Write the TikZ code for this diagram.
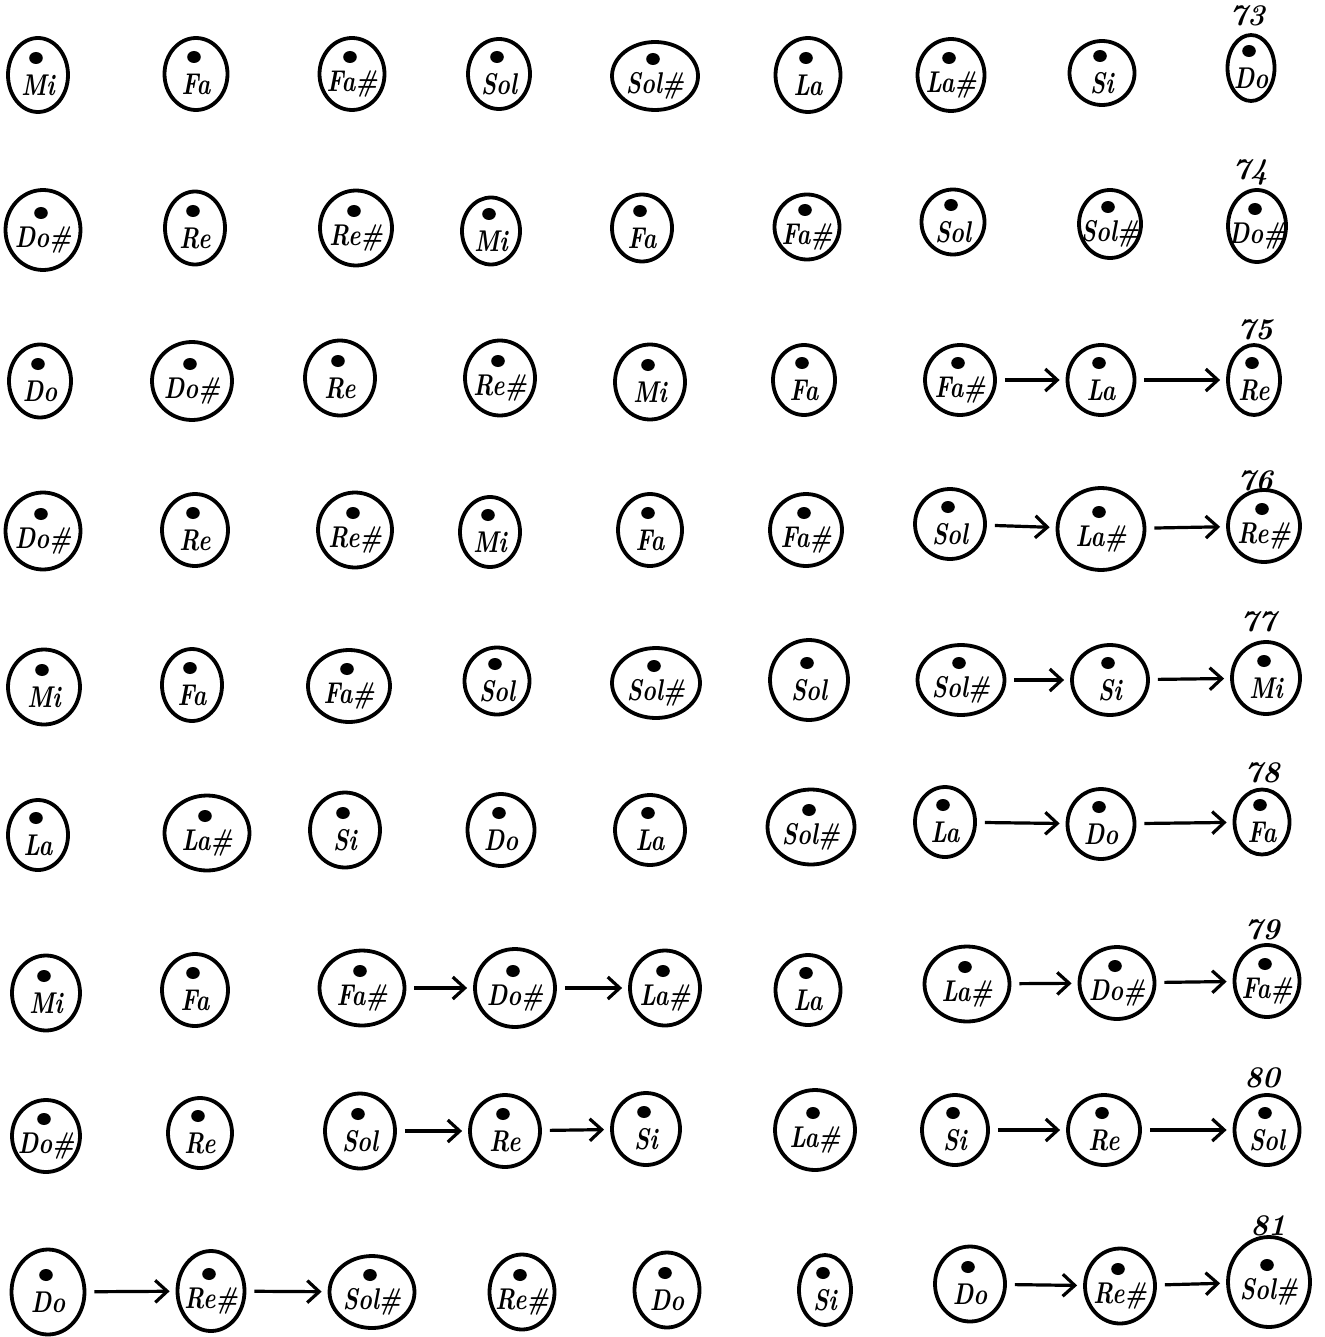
\documentclass[tikz,border=0pt]{standalone}
\usetikzlibrary{shapes.geometric,arrows.meta}
\tikzset{
  nt/.style={draw, ellipse, line width=1.9pt, inner sep=0pt},
  txt/.style={font=\fontsize{15}{16}\selectfont\bfseries\itshape, inner sep=0pt},
  num/.style={font=\fontsize{15}{16}\selectfont\bfseries\itshape, inner sep=0pt},
  arr/.style={line width=1.6pt, -{Straight Barb[length=6pt,width=11pt,line width=1.6pt]}, shorten <=4pt, shorten >=3pt},
}
% #1 name, #2 x, #3 y, #4 width px, #5 height px, #6 label
\newcommand\nt[6]{%
  \node[nt, minimum width={0.5pt*#4}, minimum height={0.5pt*#5}] (#1) at (#2,#3) {};
  \fill (#1.center) ++(-2,-17) ellipse (3.4pt and 3pt);
  \node[txt] (#1t) at ([yshift=-5pt]#1.center) {\scalebox{0.78}[1]{#6}};
}
\begin{document}
\begin{tikzpicture}[x=0.5pt,y=-0.5pt]
\useasboundingbox (0,0) rectangle (1325,1337);
% Row 1
\nt{a1}{38}{75}{60}{74}{Mi}
\nt{a2}{196}{74}{63}{72}{Fa}
\nt{a3}{352}{74}{65}{72}{Fa\#}
\nt{a4}{499}{74}{62}{70}{Sol}
\nt{a5}{655}{76}{86}{68}{Sol\#}
\nt{a6}{808}{75}{65}{74}{La}
\nt{a7}{951}{75}{67}{72}{La\#}
\nt{a8}{1102}{73}{65}{64}{Si}
\nt{a9}{1251}{68}{47}{66}{Do}
\node[num] (n73) at (1247,16) {73};
% Row 2
\nt{b1}{43}{230}{75}{80}{Do\#}
\nt{b2}{195}{228}{60}{73}{Re}
\nt{b3}{356}{228}{72}{75}{Re\#}
\nt{b4}{491}{231}{58}{67}{Mi}
\nt{b5}{642}{228}{60}{67}{Fa}
\nt{b6}{807}{227}{65}{65}{Fa\#}
\nt{b7}{953}{222}{63}{65}{Sol}
\nt{b8}{1110}{224}{62}{68}{Sol\#}
\nt{b9}{1257}{226}{58}{72}{Do\#}
\node[num] (n74) at (1250,172) {74};
% Row 3
\nt{c1}{40}{381}{62}{73}{Do}
\nt{c2}{192}{381}{80}{78}{Do\#}
\nt{c3}{340}{378}{70}{75}{Re}
\nt{c4}{500}{378}{70}{75}{Re\#}
\nt{c5}{650}{382}{70}{75}{Mi}
\nt{c6}{804}{380}{62}{70}{Fa}
\nt{c7}{960}{380}{70}{70}{Fa\#}
\nt{c8}{1101}{380}{67}{70}{La}
\nt{c9}{1254}{380}{52}{70}{Re}
\node[num] (n75) at (1255,330) {75};
\draw[arr] (c7) -- (c8);
\draw[arr] (c8) -- (c9);
% Row 4
\nt{d1}{43}{531}{75}{77}{Do\#}
\nt{d2}{195}{530}{66}{72}{Re}
\nt{d3}{355}{530}{74}{75}{Re\#}
\nt{d4}{490}{532}{60}{70}{Mi}
\nt{d5}{650}{530}{64}{72}{Fa}
\nt{d6}{806}{530}{72}{72}{Fa\#}
\nt{d7}{950}{524}{70}{70}{Sol}
\nt{d8}{1101}{529}{87}{82}{La\#}
\nt{d9}{1264}{526}{72}{72}{Re\#}
\node[num] (n76) at (1255,481) {76};
\draw[arr] (d7) -- (d8);
\draw[arr] (d8) -- (d9);
% Row 5
\nt{e1}{44}{687}{72}{75}{Mi}
\nt{e2}{192}{685}{60}{72}{Fa}
\nt{e3}{349}{686}{82}{72}{Fa\#}
\nt{e4}{497}{681}{65}{67}{Sol}
\nt{e5}{656}{683}{88}{70}{Sol\#}
\nt{e6}{809}{680}{78}{80}{Sol}
\nt{e7}{961}{680}{87}{70}{Sol\#}
\nt{e8}{1110}{680}{76}{70}{Si}
\nt{e9}{1266}{678}{68}{72}{Mi}
\node[num] (n77) at (1258,622) {77};
\draw[arr] (e7) -- (e8);
\draw[arr] (e8) -- (e9);
% Row 6
\nt{f1}{38}{835}{60}{70}{La}
\nt{f2}{207}{833}{85}{75}{La\#}
\nt{f3}{345}{830}{70}{75}{Si}
\nt{f4}{501}{830}{67}{72}{Do}
\nt{f5}{650}{830}{70}{70}{La}
\nt{f6}{811}{827}{87}{75}{Sol\#}
\nt{f7}{945}{822}{60}{70}{La}
\nt{f8}{1101}{824}{67}{70}{Do}
\nt{f9}{1262}{822}{55}{65}{Fa}
\node[num] (n78) at (1262,773) {78};
\draw[arr] (f7) -- (f8);
\draw[arr] (f8) -- (f9);
% Row 7
\nt{g1}{46}{993}{68}{75}{Mi}
\nt{g2}{195}{990}{66}{72}{Fa}
\nt{g3}{362}{988}{85}{75}{Fa\#}
\nt{g4}{515}{988}{80}{78}{Do\#}
\nt{g5}{665}{988}{70}{75}{La\#}
\nt{g6}{808}{990}{65}{70}{La}
\nt{g7}{967}{984}{85}{75}{La\#}
\nt{g8}{1117}{983}{75}{72}{Do\#}
\nt{g9}{1267}{981}{65}{72}{Fa\#}
\node[num] (n79) at (1262,930) {79};
\draw[arr] (g3) -- (g4);
\draw[arr] (g4) -- (g5);
\draw[arr] (g7) -- (g8);
\draw[arr] (g8) -- (g9);
% Row 8
\nt{h1}{46}{1136}{68}{72}{Do\#}
\nt{h2}{200}{1133}{64}{70}{Re}
\nt{h3}{360}{1131}{70}{75}{Sol}
\nt{h4}{505}{1131}{70}{72}{Re}
\nt{h5}{646}{1129}{68}{72}{Si}
\nt{h6}{815}{1130}{80}{80}{La\#}
\nt{h7}{955}{1130}{66}{70}{Si}
\nt{h8}{1104}{1130}{72}{70}{Re}
\nt{h9}{1267}{1130}{65}{70}{Sol}
\node[num] (n80) at (1262,1078) {80};
\draw[arr] (h3) -- (h4);
\draw[arr] (h4) -- (h5);
\draw[arr] (h7) -- (h8);
\draw[arr] (h8) -- (h9);
% Row 9
\nt{i1}{48}{1292}{73}{85}{Do}
\nt{i2}{211}{1291}{67}{80}{Re\#}
\nt{i3}{372}{1292}{85}{72}{Sol\#}
\nt{i4}{522}{1292}{65}{75}{Re\#}
\nt{i5}{667}{1290}{65}{75}{Do}
\nt{i6}{825}{1290}{52}{70}{Si}
\nt{i7}{970}{1284}{70}{75}{Do}
\nt{i8}{1120}{1286}{70}{75}{Re\#}
\nt{i9}{1269}{1282}{82}{90}{Sol\#}
\node[num] (n81) at (1268,1226) {81};
\draw[arr] (i1) -- (i2);
\draw[arr] (i2) -- (i3);
\draw[arr] (i7) -- (i8);
\draw[arr] (i8) -- (i9);
\end{tikzpicture}
\end{document}
